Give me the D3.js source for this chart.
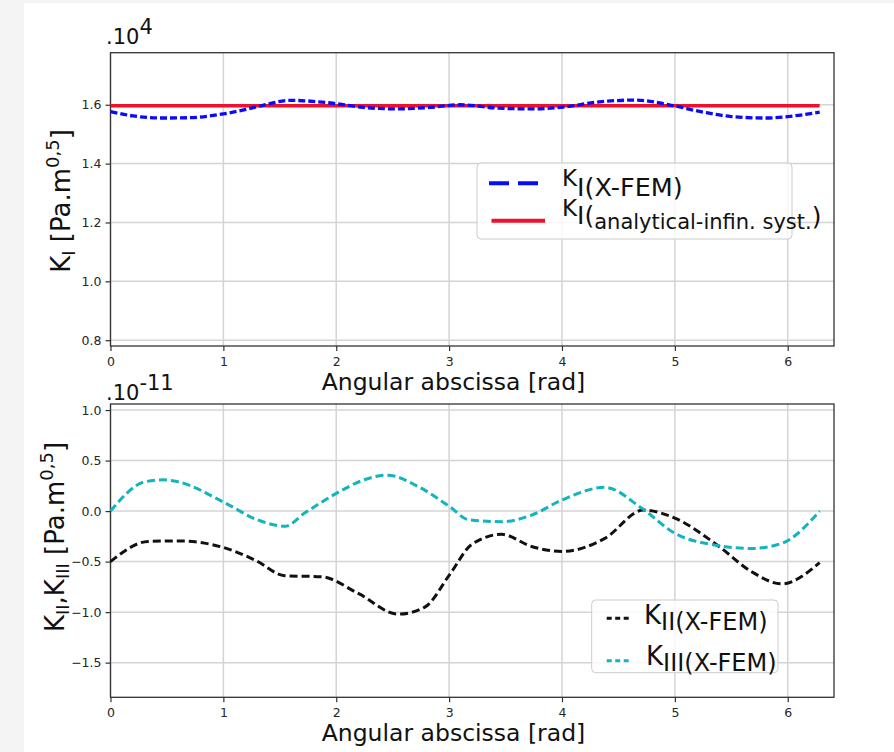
<!DOCTYPE html>
<html><head><meta charset="utf-8">
<script src="https://cdn.jsdelivr.net/npm/d3@7"></script>
<style>body{margin:0;background:#f4f4f4;} text{font-family:"DejaVu Sans",sans-serif;}</style>
</head><body>
<svg id="c" width="894" height="752"></svg>
<script>
// ---- data ----
const xTicks = [0, 1, 2, 3, 4, 5, 6];
const topYTicks = [0.8, 1.0, 1.2, 1.4, 1.6];
const botYTicks = [-1.5, -1.0, -0.5, 0.0, 0.5, 1.0];

const kIAngle = [0, 0.2, 0.45, 0.7, 1.0, 1.2, 1.35, 1.59, 1.95, 2.24, 2.535, 2.83, 3.1, 3.42, 3.715, 4.01, 4.31, 4.65, 4.95, 5.25, 5.5, 5.8, 6.05, 6.283];
const kIFem   = [1.577, 1.562, 1.555, 1.556, 1.569, 1.584, 1.598, 1.615, 1.606, 1.591, 1.586, 1.591, 1.600, 1.589, 1.586, 1.592, 1.609, 1.616, 1.600, 1.575, 1.560, 1.555, 1.562, 1.575];
const kIAnaAngle = [0, 6.283];
const kIAna      = [1.597, 1.597];

const kIIAngle = [0, 0.335, 0.6, 1.0, 1.28, 1.545, 1.87, 2.195, 2.55, 2.785, 3.01, 3.2, 3.465, 3.73, 4.0, 4.38, 4.72, 5.0, 5.38, 5.68, 5.945, 6.283];
const kIIFem   = [-0.5, -0.30, -0.295, -0.36, -0.485, -0.64, -0.65, -0.815, -1.02, -0.95, -0.62, -0.33, -0.23, -0.35, -0.40, -0.27, 0.01, -0.07, -0.34, -0.60, -0.72, -0.51];

const kIIIAngle = [0, 0.305, 0.47, 0.6, 1.0, 1.31, 1.545, 1.72, 2.0, 2.25, 2.45, 2.73, 3.01, 3.17, 3.465, 3.73, 4.0, 4.38, 4.705, 5.0, 5.38, 5.68, 5.945, 6.283];
const kIIIFem   = [0, 0.29, 0.31, 0.29, 0.09, -0.09, -0.15, -0.02, 0.175, 0.31, 0.356, 0.24, 0.04, -0.085, -0.105, -0.04, 0.11, 0.235, 0.03, -0.22, -0.34, -0.37, -0.32, 0.0];

// ---- drawing ----
const svg = d3.select("#c");
svg.append("rect").attr("width", 894).attr("height", 752).attr("fill", "#f4f4f4");
svg.append("rect").attr("x", 24).attr("y", 3).attr("width", 870).attr("height", 749).attr("fill", "#ffffff");

const L = 110.5, R = 834;
const x = d3.scaleLinear().domain([0, 6.41]).range([L, R]);
const yTop = d3.scaleLinear().domain([0.7803, 1.7769]).range([346, 52.7]);
const yBot = d3.scaleLinear().domain([-1.843, 1.06]).range([697.3, 404]);

function panel(y, yTicks, fmt) {
  const [b, t] = y.range();
  const g = svg.append("g");
  g.selectAll(".vg").data(xTicks).join("line")
    .attr("x1", d => x(d)).attr("x2", d => x(d)).attr("y1", t).attr("y2", b)
    .attr("stroke", "#d4d4d4").attr("stroke-width", 1.5);
  g.selectAll(".hg").data(yTicks).join("line")
    .attr("x1", L).attr("x2", R).attr("y1", d => y(d)).attr("y2", d => y(d))
    .attr("stroke", "#d4d4d4").attr("stroke-width", 1.5);
  const ax = g.append("g").attr("transform", `translate(0,${b})`)
    .call(d3.axisBottom(x).tickValues(xTicks).tickFormat(d3.format("d")).tickSize(5).tickPadding(6));
  const ay = g.append("g").attr("transform", `translate(${L},0)`)
    .call(d3.axisLeft(y).tickValues(yTicks).tickFormat(fmt).tickSize(5).tickPadding(4));
  [ax, ay].forEach(a => {
    a.select(".domain").remove();
    a.selectAll("line").attr("stroke", "#333").attr("stroke-width", 1.2);
    a.selectAll("text").attr("font-size", 12.5).attr("fill", "#262626").attr("font-family", "DejaVu Sans");
  });
  g.append("rect").attr("x", L).attr("y", t).attr("width", R - L).attr("height", b - t)
    .attr("fill", "none").attr("stroke", "#333").attr("stroke-width", 1.3);
  return g;
}

const gTop = panel(yTop, topYTicks, d3.format(".1f"));
const gBot = panel(yBot, botYTicks, d3.format(".1f"));

function drawLine(g, xs, ys, y, color, width, dash, curve) {
  const pts = xs.map((v, i) => [v, ys[i]]);
  g.append("path").datum(pts)
    .attr("d", d3.line().x(d => x(d[0])).y(d => y(d[1])).curve(curve))
    .attr("fill", "none").attr("stroke", color).attr("stroke-width", width)
    .attr("stroke-dasharray", dash);
}

drawLine(gTop, kIAnaAngle, kIAna, yTop, "#ee102c", 3.5, null, d3.curveLinear);
drawLine(gTop, kIAngle, kIFem, yTop, "#0a0aff", 3.3, "7,3", d3.curveMonotoneX);
drawLine(gBot, kIIAngle, kIIFem, yBot, "#111111", 3, "8,4", d3.curveMonotoneX);
drawLine(gBot, kIIIAngle, kIIIFem, yBot, "#12b4bd", 3, "8,4", d3.curveMonotoneX);

// exponents
const e1 = svg.append("text").attr("x", 106).attr("y", 43.5).attr("font-size", 21).attr("fill", "#111");
e1.append("tspan").text(".10");
e1.append("tspan").attr("dy", -10).attr("font-size", 21).text("4");
const e2 = svg.append("text").attr("x", 106).attr("y", 400).attr("font-size", 21).attr("fill", "#111");
e2.append("tspan").text(".10");
e2.append("tspan").attr("dy", -10).attr("font-size", 21).text("-11");

// x labels
[390, 741].forEach(yy => {
  svg.append("text").attr("x", 453.5).attr("y", yy).attr("text-anchor", "middle")
    .attr("font-size", 23.5).attr("fill", "#111").text("Angular abscissa [rad]");
});

// y labels
const yl1 = svg.append("text").attr("transform", "translate(70,201) rotate(-90)")
  .attr("text-anchor", "middle").attr("font-size", 26).attr("fill", "#111");
yl1.append("tspan").text("K");
yl1.append("tspan").attr("font-size", 18).attr("dy", 5).text("I");
yl1.append("tspan").attr("dy", -5).text(" [Pa.m");
yl1.append("tspan").attr("font-size", 18).attr("dy", -11).text("0,5");
yl1.append("tspan").attr("dy", 11).text("]");

const yl2 = svg.append("text").attr("transform", "translate(63.5,537) rotate(-90)")
  .attr("text-anchor", "middle").attr("font-size", 26).attr("fill", "#111");
yl2.append("tspan").text("K");
yl2.append("tspan").attr("font-size", 18).attr("dy", 5).text("II");
yl2.append("tspan").attr("dy", -5).text(",K");
yl2.append("tspan").attr("font-size", 18).attr("dy", 5).text("III");
yl2.append("tspan").attr("dy", -5).text(" [Pa.m");
yl2.append("tspan").attr("font-size", 18).attr("dy", -11).text("0,5");
yl2.append("tspan").attr("dy", 11).text("]");

// legends
function box(x0, y0, w, h) {
  svg.append("rect").attr("x", x0).attr("y", y0).attr("width", w).attr("height", h).attr("rx", 4)
    .attr("fill", "#fff").attr("fill-opacity", 0.8).attr("stroke", "#cccccc").attr("stroke-width", 1);
}
box(477, 163, 315, 76);
svg.append("line").attr("x1", 489).attr("x2", 539).attr("y1", 183.3).attr("y2", 183.3)
  .attr("stroke", "#0a0aff").attr("stroke-width", 4).attr("stroke-dasharray", "20,9");
svg.append("line").attr("x1", 491.5).attr("x2", 545).attr("y1", 220.7).attr("y2", 220.7)
  .attr("stroke", "#ee102c").attr("stroke-width", 4);
const l1 = svg.append("text").attr("x", 562).attr("y", 186).attr("font-size", 23).attr("fill", "#111");
l1.append("tspan").text("K");
l1.append("tspan").attr("font-size", 25.5).attr("dy", 10).text("I(X-FEM)");
const l2 = svg.append("text").attr("x", 562).attr("y", 216).attr("font-size", 23).attr("fill", "#111");
l2.append("tspan").text("K");
l2.append("tspan").attr("font-size", 25).attr("dy", 8).text("I(");
l2.append("tspan").attr("font-size", 21).attr("dy", 5).text("analytical-infin. syst.");
l2.append("tspan").attr("font-size", 25).attr("dy", -4).text(")");

box(591.7, 600, 186.3, 72.7);
svg.append("line").attr("x1", 606.7).attr("x2", 632).attr("y1", 618.3).attr("y2", 618.3)
  .attr("stroke", "#111").attr("stroke-width", 3).attr("stroke-dasharray", "5,3.5");
svg.append("line").attr("x1", 606.7).attr("x2", 632).attr("y1", 660.7).attr("y2", 660.7)
  .attr("stroke", "#12b4bd").attr("stroke-width", 3).attr("stroke-dasharray", "5,3.5");
const l3 = svg.append("text").attr("x", 644).attr("y", 624).attr("font-size", 26).attr("fill", "#111");
l3.append("tspan").text("K");
l3.append("tspan").attr("font-size", 24).attr("dy", 6).text("II(X-FEM)");
const l4 = svg.append("text").attr("x", 646).attr("y", 665).attr("font-size", 26).attr("fill", "#111");
l4.append("tspan").text("K");
l4.append("tspan").attr("font-size", 24).attr("dy", 6).text("III(X-FEM)");
</script>
</body></html>
